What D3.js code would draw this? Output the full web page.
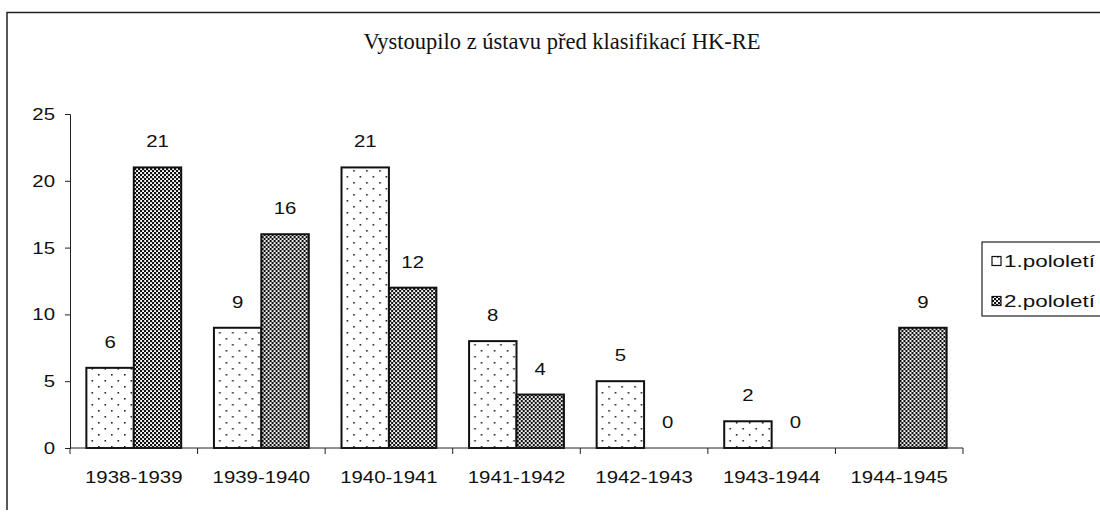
<!DOCTYPE html>
<html>
<head>
<meta charset="utf-8">
<script src="https://cdn.jsdelivr.net/npm/d3@7"></script>
<style>
  body { margin: 0; background: #fff; }
  svg { display: block; }
</style>
</head>
<body>
<div class="chart"></div>
<script>
// data
const categories = ["1938-1939", "1939-1940", "1940-1941", "1941-1942", "1942-1943", "1943-1944", "1944-1945"];
const series = ["1.pololetí", "2.pololetí"];
const firstHalf = [6, 9, 21, 8, 5, 2, null];
const secondHalf = [21, 16, 12, 4, 0, 0, 9];
const yTicks = [0, 5, 10, 15, 20, 25];

const W = 1100, H = 513;
const plot = { left: 70, right: 963, top: 114, bottom: 448 };
const stretch = 1.2;   // the scanned labels are wider than normal Arial

const svg = d3.select('.chart').append('svg')
    .attr('width', W).attr('height', H);

// patterns
const defs = svg.append('defs');
const dots = defs.append('pattern').attr('id', 'dots')
    .attr('patternUnits', 'userSpaceOnUse').attr('width', 13).attr('height', 12);
dots.append('rect').attr('width', 13).attr('height', 12).attr('fill', '#fff');
dots.append('rect').attr('x', 2).attr('y', 2).attr('width', 1.6).attr('height', 1.6).attr('fill', '#222');
dots.append('rect').attr('x', 8.5).attr('y', 8).attr('width', 1.6).attr('height', 1.6).attr('fill', '#222');

const check = defs.append('pattern').attr('id', 'check')
    .attr('patternUnits', 'userSpaceOnUse').attr('width', 4).attr('height', 4);
check.append('rect').attr('width', 4).attr('height', 4).attr('fill', '#fff');
check.append('rect').attr('x', 0).attr('y', 0).attr('width', 2.2).attr('height', 2.2).attr('fill', '#111');
check.append('rect').attr('x', 2).attr('y', 2).attr('width', 2.2).attr('height', 2.2).attr('fill', '#111');

const fills = ['url(#dots)', 'url(#check)'];

// frame (only top and left edges visible)
svg.append('path')
    .attr('d', `M7,510 V12.5 H1100`)
    .attr('fill', 'none').attr('stroke', '#222').attr('stroke-width', 1.5);

// title
svg.append('text')
    .attr('x', 562).attr('y', 49)
    .attr('text-anchor', 'middle')
    .style('font-family', '"Liberation Serif", "Times New Roman", serif')
    .style('font-size', '22.5px')
    .attr('fill', '#111')
    .text('Vystoupilo z ústavu před klasifikací HK-RE');

// scales
const x = d3.scaleBand().domain(categories).range([plot.left, plot.right]).paddingInner(0).paddingOuter(0);
const xs = d3.scaleBand().domain(series).range([0, x.bandwidth()]).paddingInner(0).paddingOuter(0.345);
const y = d3.scaleLinear().domain([0, 25]).range([plot.bottom, plot.top]);

const font = '"Liberation Sans", Arial, sans-serif';

// y axis
const yAxis = svg.append('g')
    .attr('transform', `translate(${plot.left},0)`)
    .call(d3.axisLeft(y).tickValues(yTicks).tickSize(5).tickPadding(10));
yAxis.selectAll('text')
    .attr('x', -15 / stretch)
    .attr('transform', `scale(${stretch},1)`)
    .style('font-family', font).style('font-size', '17px').attr('fill', '#111');
yAxis.selectAll('line, path').attr('stroke', '#222');

// bars
const rows = categories.map((c, i) => ({ cat: c, vals: [firstHalf[i], secondHalf[i]] }));
const groups = svg.append('g').selectAll('g').data(rows).join('g')
    .attr('transform', d => `translate(${x(d.cat)},0)`);

groups.selectAll('rect')
    .data(d => d.vals.map((v, j) => ({ v, s: series[j], j })).filter(e => e.v !== null && e.v > 0))
    .join('rect')
    .attr('x', d => xs(d.s))
    .attr('width', xs.bandwidth())
    .attr('y', d => y(d.v))
    .attr('height', d => y(0) - y(d.v))
    .attr('fill', d => fills[d.j])
    .attr('stroke', '#111').attr('stroke-width', 2);

groups.selectAll('text')
    .data(d => d.vals.map((v, j) => ({ v, s: series[j] })).filter(e => e.v !== null))
    .join('text')
    .attr('transform', d => `translate(${xs(d.s) + xs.bandwidth() / 2},${y(d.v) - 26}) scale(${stretch},1)`)
    .attr('dy', '0.35em')
    .attr('text-anchor', 'middle')
    .style('font-family', font).style('font-size', '17px')
    .attr('fill', '#111')
    .text(d => d.v);

// x axis with ticks at category boundaries
const xAxis = svg.append('g').attr('transform', `translate(0,${plot.bottom})`);
xAxis.append('line')
    .attr('x1', plot.left).attr('x2', plot.right)
    .attr('stroke', '#222');
xAxis.selectAll('line.tick').data(categories.concat([null])).join('line')
    .attr('class', 'tick')
    .attr('x1', (d, i) => plot.left + i * x.step())
    .attr('x2', (d, i) => plot.left + i * x.step())
    .attr('y1', 0).attr('y2', 6)
    .attr('stroke', '#222');
xAxis.selectAll('text').data(categories).join('text')
    .attr('transform', d => `translate(${x(d) + x.bandwidth() / 2},35) scale(${stretch},1)`)
    .attr('text-anchor', 'middle')
    .style('font-family', font).style('font-size', '17px')
    .attr('fill', '#111')
    .text(d => d);

// legend
const legend = svg.append('g').attr('transform', 'translate(982,242)');
legend.append('rect').attr('width', 140).attr('height', 74)
    .attr('fill', '#fff').attr('stroke', '#222').attr('stroke-width', 1.2);
series.forEach((s, i) => {
    const gy = 19 + i * 40;
    legend.append('rect')
        .attr('x', 10).attr('y', gy - 4.5).attr('width', 9).attr('height', 9)
        .attr('fill', fills[i]).attr('stroke', '#111').attr('stroke-width', 1.2);
    legend.append('text')
        .attr('transform', `translate(22,${gy}) scale(1.32,1)`)
        .attr('dy', '0.35em')
        .style('font-family', font).style('font-size', '17px')
        .attr('fill', '#111')
        .text(s);
});
</script>
</body>
</html>
